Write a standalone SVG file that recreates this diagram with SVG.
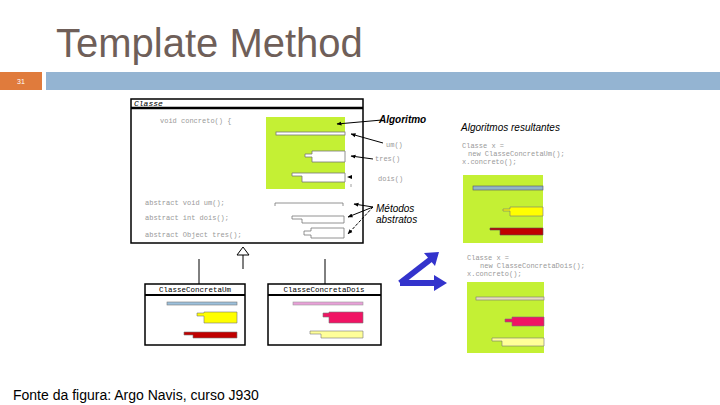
<svg xmlns="http://www.w3.org/2000/svg" width="720" height="405" viewBox="0 0 720 405">
<defs>
<marker id="ah" viewBox="0 0 10 10" refX="9" refY="5" markerWidth="5" markerHeight="5" orient="auto-start-reverse"><path d="M0,1 L10,5 L0,9 z" fill="#000"/></marker>
<style>
.title{font-family:"Liberation Sans",Arial,sans-serif;font-size:40px;fill:#6f5f59}
.code{font-family:"Liberation Mono","DejaVu Sans Mono",monospace;font-size:7px;fill:#999}
.hdr{font-family:"Liberation Mono","DejaVu Sans Mono",monospace;font-size:8px;fill:#000;font-style:italic}
.chdr{font-family:"Liberation Mono","DejaVu Sans Mono",monospace;font-size:7.5px;fill:#000;text-anchor:middle}
.lbl{font-family:"Liberation Sans",Arial,sans-serif;font-size:10px;font-style:italic;fill:#000}
.box{fill:#fff;stroke:#000;stroke-width:1.5}
.green{fill:#c4f034}
.shp{stroke:#777;stroke-width:0.8}
.conn{stroke:#000;stroke-width:1;fill:none}
</style>
</defs>
<rect width="720" height="405" fill="#fff"/>
<text class="title" x="56" y="57">Template Method</text>
<rect x="0" y="72" width="42" height="18" fill="#e07b3c"/>
<text x="21" y="84" font-family="Liberation Sans,Arial,sans-serif" font-size="7" fill="#fff" text-anchor="middle">31</text>
<rect x="46" y="72" width="674" height="18" fill="#94b4d2"/>

<g id="classe">
<rect class="box" x="131" y="99" width="232" height="144"/>
<line x1="131" y1="108" x2="363" y2="108" stroke="#000" stroke-width="2.5"/>
<text class="hdr" x="134" y="106">Classe</text>
<text class="code" x="160" y="123">void concreto() {</text>
<rect class="green" x="266" y="117" width="79" height="72"/>
<rect class="shp" x="276" y="132" width="69" height="3" fill="#fff"/>
<path class="shp" d="M305,154 H312 V151 H345 V162 H312 V157 H305 Z" fill="#fff"/>
<path class="shp" d="M292,173 H345 V182 H302 V176 H292 Z" fill="#fff"/>
<text class="code" x="145" y="205">abstract void um();</text>
<text class="code" x="145" y="220">abstract int dois();</text>
<text class="code" x="145" y="237">abstract Object tres();</text>
<path d="M275,206 V203 H343 V206" fill="none" stroke="#777" stroke-width="0.8"/>
<path class="shp" d="M292,216 H344 V223 H302 V219 H292 Z" fill="#fff"/>
<path class="shp" d="M304,231 H311 V228 H344 V238 H311 V235 H304 Z" fill="#fff"/>
</g>

<g id="labels">
<text class="lbl" x="379" y="123" font-weight="bold">Algoritmo</text>
<text class="code" x="386" y="147">um()</text>
<text class="code" x="375" y="161">tres()</text>
<text class="code" x="378" y="181">dois()</text>
<text class="lbl" x="376" y="212">Métodos</text>
<text class="lbl" x="376" y="223">abstratos</text>
</g>

<g id="classeConcretaUm">
<rect class="box" x="145" y="284" width="100" height="61"/>
<line x1="145" y1="295" x2="245" y2="295" stroke="#000" stroke-width="2"/>
<text class="chdr" x="195" y="292">ClasseConcretaUm</text>
<rect x="167" y="302" width="70" height="3" fill="#9cc0dc" stroke="#777" stroke-width="0.6"/>
<path d="M197,313 H204 V312 H237 V323 H204 V316 H197 Z" fill="#ffff00" stroke="#777" stroke-width="0.6"/>
<path d="M184,332 H237 V338 H193 V335 H184 Z" fill="#c00000" stroke="#777" stroke-width="0.6"/>
</g>

<g id="classeConcretaDois">
<rect class="box" x="268" y="284" width="113" height="61"/>
<line x1="268" y1="295" x2="381" y2="295" stroke="#000" stroke-width="2"/>
<text class="chdr" x="324" y="292">ClasseConcretaDois</text>
<rect x="293" y="302" width="70" height="3" fill="#e8a0d8" stroke="#999" stroke-width="0.6"/>
<path d="M323,313 H329 V312 H363 V323 H329 V317 H323 Z" fill="#f01464" stroke="#777" stroke-width="0.6"/>
<path d="M310,331 H363 V338 H321 V334 H310 Z" fill="#ffff99" stroke="#777" stroke-width="0.6"/>
</g>

<g id="resultado">
<text class="lbl" x="461" y="131" font-size="10.5">Algoritmos resultantes</text>
<text class="code" x="462" y="148">Classe x =</text>
<text class="code" x="468" y="156">new ClasseConcretaUm();</text>
<text class="code" x="462" y="164">x.concreto();</text>
<rect class="green" x="463" y="175" width="80" height="68"/>
<rect x="473" y="186" width="70" height="4" fill="#90b4c8" stroke="#556" stroke-width="0.6"/>
<path d="M503,209 H510 V207 H543 V216 H510 V211 H503 Z" fill="#ffff00" stroke="#777" stroke-width="0.6"/>
<path d="M490,228 H543 V235 H500 V230 H490 Z" fill="#c00000" stroke="#555" stroke-width="0.6"/>
</g>

<g id="resultado2">
<text class="code" x="467" y="260">Classe x =</text>
<text class="code" x="480" y="268">new ClasseConcretaDois();</text>
<text class="code" x="467" y="276">x.concreto();</text>
<rect class="green" x="467" y="282" width="77" height="71"/>
<rect x="476" y="297" width="68" height="3" fill="#e8dcc0" stroke="#777" stroke-width="0.6"/>
<path d="M505,319 H512 V317 H544 V326 H512 V322 H505 Z" fill="#f01464" stroke="#777" stroke-width="0.6"/>
<path d="M492,338 H544 V346 H502 V341 H492 Z" fill="#ffff99" stroke="#777" stroke-width="0.6"/>
</g>

<g id="setas-azuis">
<path d="M400,283 L431,259" stroke="#3333cc" stroke-width="6" fill="none"/>
<path d="M424,253 L439,252 L435,266 Z" fill="#3333cc"/>
<path d="M400,283 L436,283" stroke="#3333cc" stroke-width="6" fill="none"/>
<path d="M434,275 L447,283 L434,291 Z" fill="#3333cc"/>
</g>

<g id="connectors">
<path class="conn" d="M382,120 L337,124" marker-end="url(#ah)"/>
<path class="conn" d="M383,143 L351,134" marker-end="url(#ah)"/>
<path class="conn" d="M373,159 L351,156" marker-end="url(#ah)"/>
<path d="M347,177 L352,175 L352,179 Z" fill="#000"/>
<line x1="351" y1="184" x2="351" y2="187" stroke="#888" stroke-width="0.8"/>
<path class="conn" d="M373,207 L354,204" marker-end="url(#ah)"/>
<path class="conn" d="M373,207 L348,217" marker-end="url(#ah)"/>
<path class="conn" d="M373,207 L348,234" marker-end="url(#ah)" stroke-dasharray="3,1.5"/>
<line class="conn" x1="243" y1="255" x2="243" y2="269"/>
<path d="M243,247 L249,255 L237,255 Z" fill="#fff" stroke="#000" stroke-width="1"/>
<line class="conn" x1="199" y1="259" x2="199" y2="284"/>
<line class="conn" x1="325" y1="259" x2="325" y2="284"/>
</g>

<text x="13" y="400" font-family="Liberation Sans,Arial,sans-serif" font-size="14" fill="#000">Fonte da figura: Argo Navis, curso J930</text>
</svg>
